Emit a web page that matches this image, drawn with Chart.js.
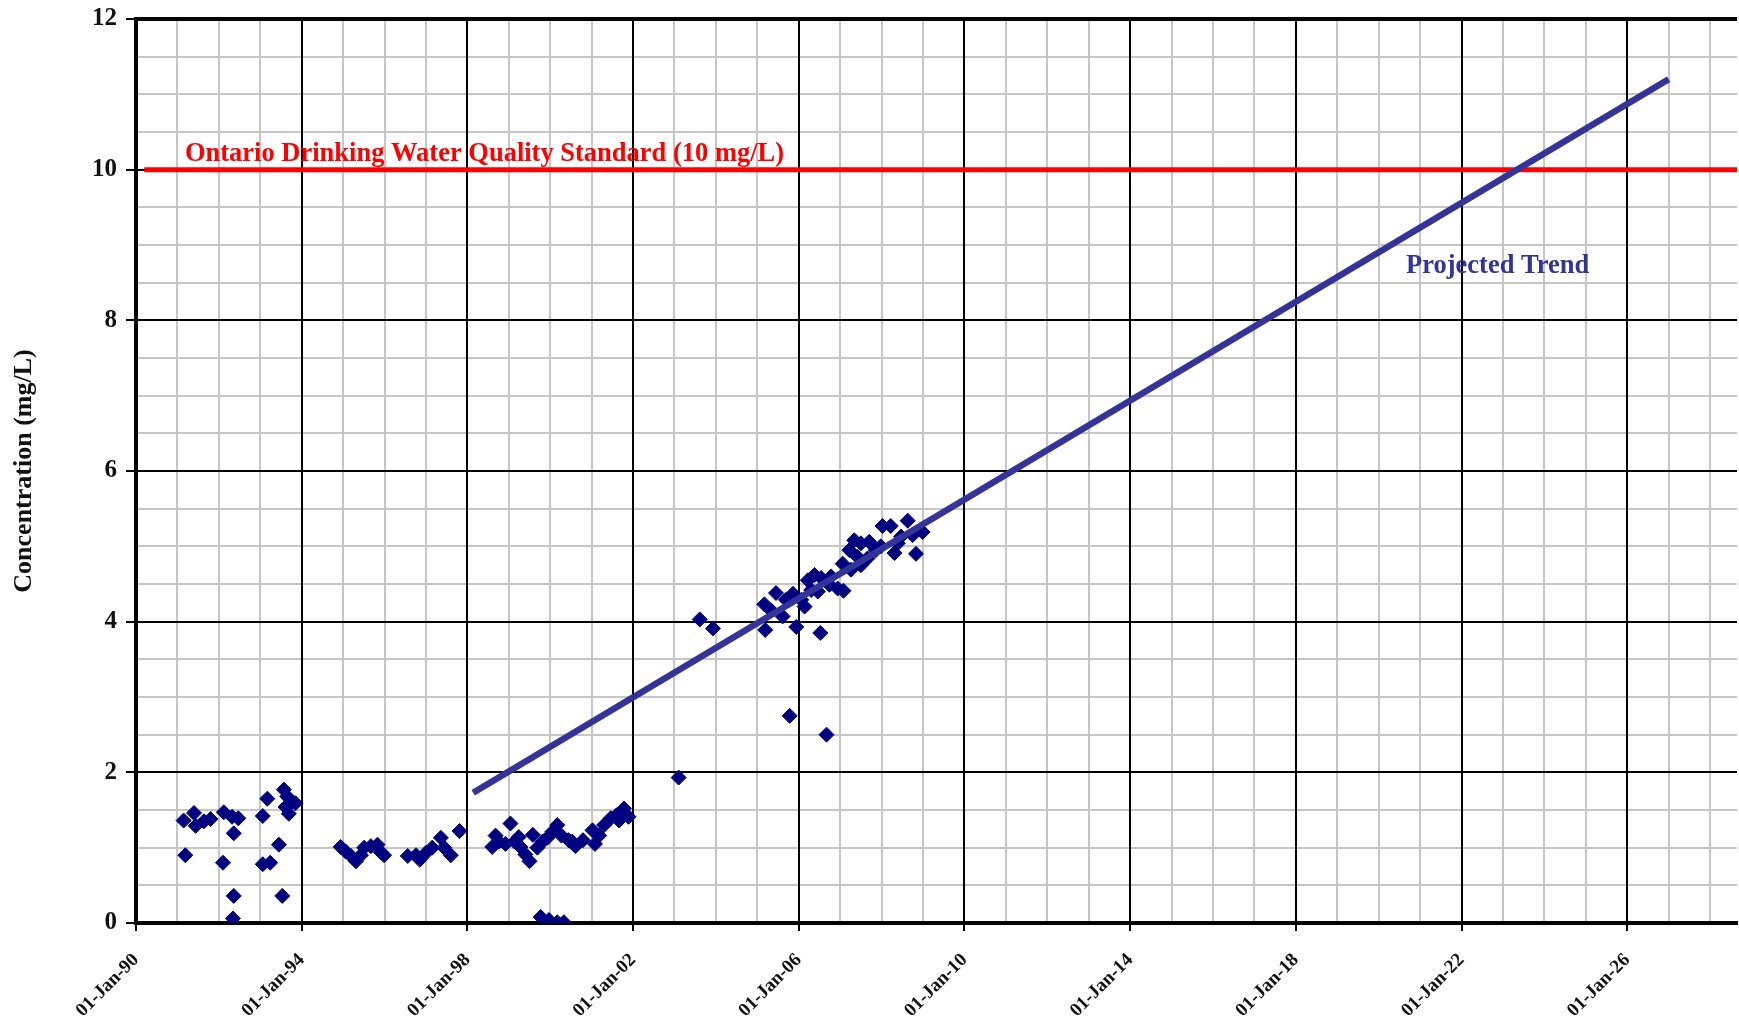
<!DOCTYPE html>
<html>
<head>
<meta charset="utf-8">
<title>Concentration (mg/L)</title>
<script src="https://cdn.jsdelivr.net/npm/chart.js@4"></script>
<style>
  html, body { margin: 0; padding: 0; background: #ffffff; }
  #wrap { width: 1739px; height: 1023px; }
</style>
</head>
<body>
<div id="wrap"><canvas id="chart" width="1739" height="1023"></canvas></div>
<script>
// ---- Measured samples (decimal year, mg/L) ----
const sampleDates = [
  1991.19, 1991.15, 1991.40, 1991.44, 1991.64, 1991.80,
  1992.12, 1992.32, 1992.47, 1992.36, 1992.10, 1992.36, 1992.34,
  1993.17, 1993.06, 1993.45, 1993.06, 1993.24, 1993.53,
  1993.57, 1993.65, 1993.77, 1993.85, 1993.69, 1993.61,
  1994.94, 1995.06, 1995.19, 1995.31, 1995.43, 1995.51, 1995.67, 1995.83, 1995.91, 1995.99,
  1996.56, 1996.76, 1996.85, 1997.00, 1997.15, 1997.36, 1997.44, 1997.60, 1997.81,
  1998.60, 1998.68, 1998.76, 1998.92, 1999.04, 1999.14, 1999.24, 1999.28, 1999.40, 1999.50,
  1999.58, 1999.69, 1999.81, 1999.93, 2000.05, 2000.17, 2000.27, 2000.44, 2000.53, 2000.61,
  2000.79, 2001.02, 2001.08, 2001.18, 2001.30, 2001.46, 2001.60, 2001.66, 2001.78, 2001.89,
  1999.77, 1999.97, 2000.17, 2000.33,
  2003.10,
  2003.61, 2003.93,
  2005.17, 2005.33, 2005.45, 2005.19, 2005.61, 2005.69, 2005.94, 2006.52, 2005.78, 2006.67,
  2005.86, 2006.06, 2006.22, 2006.30, 2006.38, 2006.54, 2006.14, 2006.46, 2006.74, 2006.78,
  2006.94, 2007.08, 2007.06, 2007.22, 2007.34, 2007.42, 2007.50, 2007.66, 2007.70, 2007.50,
  2007.26, 2007.86, 2007.98,
  2008.02, 2008.22, 2008.39, 2008.63, 2008.47, 2008.75, 2008.83, 2008.31, 2008.99
];
const sampleConc = [
  0.90, 1.36, 1.46, 1.29, 1.35, 1.38,
  1.47, 1.41, 1.39, 1.19, 0.80, 0.36, 0.06,
  1.65, 1.42, 1.04, 0.78, 0.80, 0.36,
  1.77, 1.68, 1.61, 1.59, 1.45, 1.54,
  1.01, 0.95, 0.89, 0.82, 0.90, 1.00, 1.02, 1.04, 0.94, 0.90,
  0.89, 0.90, 0.84, 0.93, 1.00, 1.13, 1.00, 0.90, 1.22,
  1.01, 1.16, 1.08, 1.05, 1.32, 1.08, 1.14, 1.01, 0.91, 0.82,
  1.17, 1.00, 1.08, 1.13, 1.21, 1.30, 1.16, 1.10, 1.08, 1.02,
  1.10, 1.23, 1.05, 1.16, 1.30, 1.39, 1.43, 1.36, 1.52, 1.41,
  0.08, 0.04, 0.01, 0.01,
  1.93,
  4.03, 3.91,
  4.23, 4.15, 4.38, 3.89, 4.07, 4.29, 3.93, 3.85, 2.75, 2.50,
  4.37, 4.29, 4.55, 4.42, 4.62, 4.58, 4.20, 4.40, 4.49, 4.60,
  4.44, 4.41, 4.77, 4.95, 5.08, 4.86, 5.04, 4.84, 5.06, 4.75,
  4.69, 4.95, 5.00,
  5.27, 5.27, 5.04, 5.34, 5.13, 5.15, 4.90, 4.91, 5.19
];

// ---- Projected linear trend ----
const trendDates = [1998.14, 2027.00];
const trendConc  = [1.73, 11.20];

// ---- Ontario Drinking Water Quality Standard ----
const standardDates = [1990.20, 2029.50];
const standardConc  = [10, 10];

// ---- Axes ----
const X_MIN = 1990, X_MAX = 2028.65;
const Y_MIN = 0, Y_MAX = 12;
const xMajorTicks = [1990, 1994, 1998, 2002, 2006, 2010, 2014, 2018, 2022, 2026];
const xTickLabels = ['01-Jan-90', '01-Jan-94', '01-Jan-98', '01-Jan-02', '01-Jan-06',
                     '01-Jan-10', '01-Jan-14', '01-Jan-18', '01-Jan-22', '01-Jan-26'];
const yMajorTicks = [0, 2, 4, 6, 8, 10, 12];
const yTickLabels = ['0', '2', '4', '6', '8', '10', '12'];
const xMinorTicks = [];
for (let yr = 1990; yr <= 2028; yr++) xMinorTicks.push(yr);
const yMinorTicks = [];
for (let v = 0; v <= 12; v += 0.5) yMinorTicks.push(v);

// ---- In-plot text labels (positions in data units) ----
const plotLabels = [
  { text: 'Ontario Drinking Water Quality Standard (10 mg/L)', x: 1991.18, y: 10.11, color: '#ff0000' },
  { text: 'Projected Trend', x: 2020.66, y: 8.63, color: '#333399' }
];

const SERIF = '"Liberation Serif", "Times New Roman", serif';
const MINOR_GRID = '#c6c6c6';
const INK = '#111111';

const toPoints = (xs, ys) => xs.map((x, i) => ({ x: x, y: ys[i] }));

const plotLabelPlugin = {
  id: 'plotLabels',
  afterDatasetsDraw(chart) {
    const { ctx } = chart;
    const xs = chart.scales.x, ys = chart.scales.y;
    ctx.save();
    ctx.font = 'bold 26.5px ' + SERIF;
    ctx.textAlign = 'left';
    ctx.textBaseline = 'alphabetic';
    plotLabels.forEach(l => {
      ctx.fillStyle = l.color;
      ctx.fillText(l.text, xs.getPixelForValue(l.x), ys.getPixelForValue(l.y));
    });
    ctx.restore();
  }
};

new Chart(document.getElementById('chart'), {
  type: 'scatter',
  data: {
    datasets: [
      {
        label: 'Projected Trend',
        data: toPoints(trendDates, trendConc),
        showLine: true,
        borderColor: '#333399',
        borderWidth: 6.5,
        pointRadius: 0,
        pointHoverRadius: 0,
        fill: false
      },
      {
        label: 'Nitrate',
        data: toPoints(sampleDates, sampleConc),
        showLine: false,
        pointStyle: 'rectRot',
        pointRadius: 7.5,
        pointHoverRadius: 7.5,
        backgroundColor: '#000080',
        borderColor: '#000080',
        borderWidth: 1
      },
      {
        label: 'Ontario Drinking Water Quality Standard (10 mg/L)',
        data: toPoints(standardDates, standardConc),
        showLine: true,
        borderColor: '#ff0000',
        borderWidth: 5,
        pointRadius: 0,
        pointHoverRadius: 0,
        fill: false
      }
    ]
  },
  options: {
    responsive: false,
    animation: false,
    devicePixelRatio: 1,
    layout: { autoPadding: false, padding: { top: 19, right: 2, bottom: 0, left: 0 } },
    plugins: { legend: { display: false }, tooltip: { enabled: false } },
    scales: {
      xMinor: {
        type: 'linear', position: 'bottom', min: X_MIN, max: X_MAX, z: -1,
        afterBuildTicks: s => { s.ticks = xMinorTicks.map(v => ({ value: v })); },
        afterFit: s => { s.height = 0; s.paddingLeft = 0; s.paddingRight = 0; },
        ticks: { display: false },
        grid: { color: MINOR_GRID, lineWidth: 2, drawTicks: false },
        border: { display: false }
      },
      yMinor: {
        type: 'linear', position: 'left', min: Y_MIN, max: Y_MAX, z: -1,
        afterBuildTicks: s => { s.ticks = yMinorTicks.map(v => ({ value: v })); },
        afterFit: s => { s.width = 0; s.paddingTop = 0; s.paddingBottom = 0; },
        ticks: { display: false },
        grid: { color: MINOR_GRID, lineWidth: 2, drawTicks: false },
        border: { display: false }
      },
      x: {
        type: 'linear', position: 'bottom', min: X_MIN, max: X_MAX,
        afterBuildTicks: s => { s.ticks = xMajorTicks.concat([X_MAX]).map(v => ({ value: v })); },
        afterFit: s => { s.height = 100; s.paddingLeft = 0; s.paddingRight = 0; },
        ticks: {
          autoSkip: false, minRotation: 45, maxRotation: 45, padding: 18,
          color: INK,
          font: { family: SERIF, size: 19, weight: 'bold', lineHeight: 1.2 },
          callback: v => {
            const i = xMajorTicks.indexOf(v);
            return i >= 0 ? xTickLabels[i] : null;
          }
        },
        grid: {
          color: '#000000',
          lineWidth: c => (c.tick && c.tick.value === X_MAX ? 4 : 2),
          tickLength: 8,
          tickWidth: 2,
          tickColor: c => (c.tick && c.tick.value === X_MAX ? 'rgba(0,0,0,0)' : '#000000')
        },
        border: { color: '#000000', width: 4 }
      },
      y: {
        type: 'linear', position: 'left', min: Y_MIN, max: Y_MAX,
        afterBuildTicks: s => { s.ticks = yMajorTicks.map(v => ({ value: v })); },
        afterFit: s => { s.width = 136; s.paddingTop = 0; s.paddingBottom = 0; },
        ticks: {
          padding: 9,
          color: INK,
          font: { family: SERIF, size: 25, weight: 'bold' },
          callback: v => {
            const i = yMajorTicks.indexOf(v);
            return i >= 0 ? yTickLabels[i] : null;
          }
        },
        grid: {
          color: '#000000',
          lineWidth: c => (c.tick && c.tick.value === Y_MAX ? 4 : 2),
          tickLength: 10,
          tickWidth: 2,
          tickColor: '#000000'
        },
        border: { color: '#000000', width: 4 },
        title: {
          display: true,
          text: 'Concentration (mg/L)',
          color: INK,
          font: { family: SERIF, size: 26, weight: 'bold', lineHeight: 1.2 },
          padding: { top: 9, bottom: 0 }
        }
      }
    }
  },
  plugins: [plotLabelPlugin]
});
</script>
</body>
</html>
